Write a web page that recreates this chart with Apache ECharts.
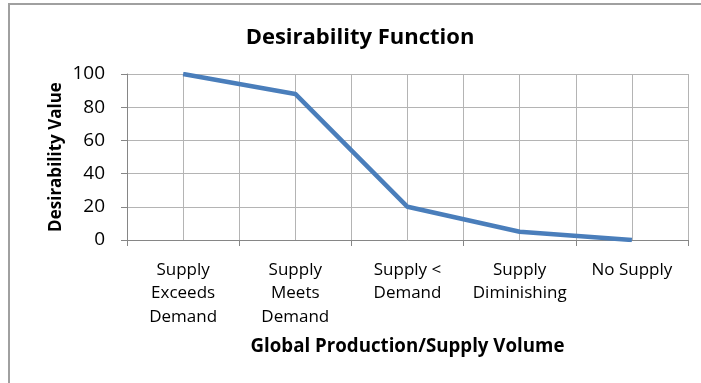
<!DOCTYPE html>
<html>
<head>
<meta charset="utf-8">
<style>
  html, body { margin: 0; padding: 0; background: #ffffff; }
  #chart { width: 701px; height: 383px; }
</style>
<script src="https://cdn.jsdelivr.net/npm/echarts@6/dist/echarts.min.js"></script>
</head>
<body>
<div id="chart"></div>
<script>
// Supply scenarios along the horizontal axis
const categories = [
  'Supply\nExceeds\nDemand',
  'Supply\nMeets\nDemand',
  'Supply <\nDemand',
  'Supply\nDiminishing',
  'No Supply'
];
// Desirability score for each scenario
const desirability = [100, 88, 20, 5, 0];
// Value-axis ticks
const yTicks = { min: 0, max: 100, step: 20 };

const FONT = '"Open Sans", "Liberation Sans", sans-serif';
const GRID_COLOR = '#b4b4b4';
const AXIS_COLOR = '#868686';

const chart = echarts.init(document.getElementById('chart'), null, { renderer: 'canvas' });

chart.setOption({
  animation: false,
  backgroundColor: '#ffffff',
  textStyle: { fontFamily: FONT },
  title: {
    text: 'Desirability Function',
    left: 355,
    top: 22,
    textAlign: 'center',
    textStyle: { fontFamily: FONT, fontSize: 22, fontWeight: 'bold', color: '#000000' }
  },
  graphic: [{
    type: 'rect',
    shape: { x: 9, y: 4, width: 900, height: 600 },
    style: { fill: 'none', stroke: '#a0a0a0', lineWidth: 2 },
    silent: true,
    z: 100
  }],
  grid: { left: 127, right: 13, top: 74, bottom: 143, containLabel: false },
  xAxis: [{
    type: 'category',
    data: categories,
    boundaryGap: true,
    name: 'Global Production/Supply Volume',
    nameLocation: 'middle',
    nameGap: 97,
    nameMoveOverlap: false,
    nameTextStyle: { fontFamily: FONT, fontSize: 18.7, fontWeight: 'bold', color: '#000000' },
    axisLine: { show: true, lineStyle: { color: AXIS_COLOR, width: 1 } },
    axisTick: { show: true, length: 6, lineStyle: { color: AXIS_COLOR } },
    axisLabel: {
      interval: 0,
      margin: 18,
      fontFamily: FONT,
      fontSize: 17,
      lineHeight: 23.5,
      color: '#000000'
    },
    splitLine: { show: true, lineStyle: { color: GRID_COLOR, width: 1 } }
  }, {
    // finer vertical guides between and through the category centres
    type: 'value',
    min: 0,
    max: 10,
    interval: 1,
    show: true,
    axisLine: { show: false },
    axisTick: { show: false },
    axisLabel: { show: false },
    splitLine: { show: true, lineStyle: { color: GRID_COLOR, width: 1 } }
  }],
  yAxis: {
    type: 'value',
    min: yTicks.min,
    max: yTicks.max,
    interval: yTicks.step,
    name: 'Desirability Value',
    nameLocation: 'middle',
    nameGap: 62,
    nameMoveOverlap: false,
    nameRotate: 90,
    nameTextStyle: { fontFamily: FONT, fontSize: 17, fontWeight: 'bold', color: '#000000' },
    axisLine: { show: true, lineStyle: { color: AXIS_COLOR, width: 1 } },
    axisTick: { show: true, length: 6, lineStyle: { color: AXIS_COLOR } },
    axisLabel: { margin: 22, fontFamily: FONT, fontSize: 19, color: '#000000' },
    splitLine: { show: true, lineStyle: { color: GRID_COLOR, width: 1 } }
  },
  series: [{
    type: 'line',
    xAxisIndex: 0,
    data: desirability,
    symbol: 'none',
    smooth: false,
    lineStyle: { color: '#4a7ebb', width: 4.5 },
    z: 5
  }]
});
</script>
</body>
</html>
